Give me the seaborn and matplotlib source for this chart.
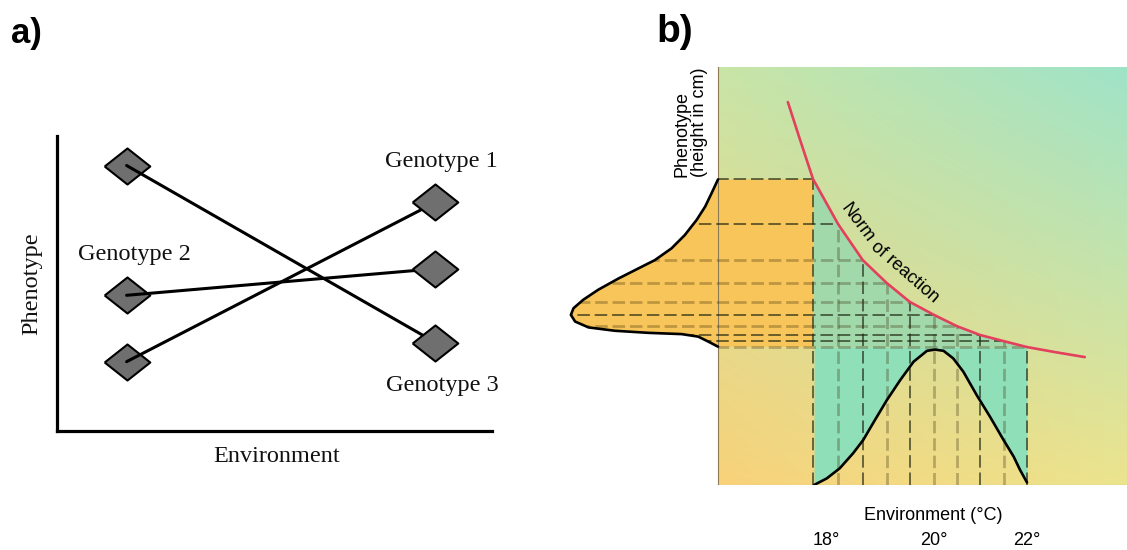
import numpy as np
import pandas as pd
import matplotlib
matplotlib.use("Agg")
import matplotlib.pyplot as plt
from matplotlib.patches import Polygon
import seaborn as sns

# ── Panel a : reaction norms of three genotypes ──────────────────────────
ENV_LEVELS = [1.6, 8.7]
GENOTYPES = ["Genotype 1", "Genotype 2", "Genotype 3"]
PHENO_G1 = [2.35, 7.75]
PHENO_G2 = [4.6, 5.5]
PHENO_G3 = [9.0, 3.0]

# ── Panel b : norm of reaction (height vs temperature) ──────────────────
NORM_TEMP = [17.53, 17.76, 18.00, 18.47, 18.93, 19.38, 19.81, 20.26, 20.69,
             21.12, 21.57, 22.00, 22.52, 23.08]
NORM_HEIGHT = [91.6, 82.5, 73.2, 62.4, 53.8, 48.3, 43.8, 40.7, 38.0,
               35.9, 34.4, 33.0, 31.8, 30.6]

# sampled environments (vertical dashes) and resulting heights (horizontal dashes)
GRID_TEMP = [18.00, 18.47, 18.93, 19.38, 19.81, 20.26, 20.69, 21.12, 21.57, 22.00]
GRID_HEIGHT = [73.2, 62.4, 53.8, 48.3, 43.8, 40.7, 38.0, 35.9, 34.4, 33.0]

# distribution of environments (bottom bell curve)
ENV_DIST_TEMP = [18.02, 18.26, 18.50, 18.75, 18.94, 19.16, 19.38, 19.63, 19.88, 20.13,
                 20.28, 20.44, 20.62, 20.81, 21.06, 21.31, 21.56, 21.75, 21.87, 22.00]
ENV_DIST_DENS = [0.0, 1.6, 4.0, 7.6, 10.8, 15.6, 20.3, 25.1, 29.5, 32.1,
                 32.4, 32.1, 30.3, 27.1, 21.5, 16.3, 10.8, 6.8, 3.6, 0.6]

# distribution of phenotypes (left curve), density measured leftwards from the axis
PHENO_DIST_HEIGHT = [73.1, 69.8, 66.6, 63.4, 59.8, 56.6, 53.8, 51.8, 49.4, 46.7,
                     44.3, 42.3, 40.7, 39.1, 37.7, 36.9, 36.4, 36.1, 35.5, 34.3,
                     33.1]
PHENO_DIST_DENS = [0.0, 0.12, 0.24, 0.40, 0.62, 0.87, 1.18, 1.49, 1.86, 2.24,
                   2.52, 2.70, 2.75, 2.67, 2.42, 1.93, 1.30, 0.68, 0.37, 0.18,
                   0.0]

TICK_TEMPS = [18, 20, 22]
TICK_LABELS = ["18°", "20°", "22°"]

# ── Style ────────────────────────────────────────────────────────────────
W, H = 1127, 550
AXIS_X = 16.224            # left edge of the coloured box (temperature units)
X_MIN, X_MAX = 13.271, 23.869
SERIF = ["Liberation Serif", "DejaVu Serif"]
SANS = ["Liberation Sans", "DejaVu Sans"]

sns.set_style("white")
plt.rcParams["font.family"] = SANS
plt.rcParams["text.color"] = "black"
plt.rcParams["lines.scale_dashes"] = False


def px_box(left, top, right, bottom):
    return [left / W, 1 - bottom / H, (right - left) / W, (bottom - top) / H]


fig = plt.figure(figsize=(W / 100, H / 100), dpi=100)
fig.patch.set_facecolor("white")

# ── Panel a ──────────────────────────────────────────────────────────────
ax_a = fig.add_axes(px_box(57, 136, 492, 431))
df = pd.DataFrame({
    "genotype": np.repeat(GENOTYPES, 2),
    "environment": ENV_LEVELS * 3,
    "phenotype": PHENO_G1 + PHENO_G2 + PHENO_G3,
})
diamond = [(-1, 0), (0, 0.79), (1, 0), (0, -0.79), (-1, 0)]
left_pts = df[df["environment"] == ENV_LEVELS[0]]
right_pts = df[df["environment"] == ENV_LEVELS[1]]

sns.scatterplot(data=left_pts, x="environment", y="phenotype", marker=diamond, s=1080,
                color="#6f6f6f", edgecolor="black", linewidth=1.5, zorder=2, ax=ax_a,
                legend=False)
sns.lineplot(data=df, x="environment", y="phenotype", units="genotype", estimator=None,
             color="black", lw=2.2, zorder=3, ax=ax_a, legend=False)
sns.scatterplot(data=right_pts, x="environment", y="phenotype", marker=diamond, s=1080,
                color="#6f6f6f", edgecolor="black", linewidth=1.5, zorder=4, ax=ax_a,
                legend=False)

ax_a.set_xlim(0, 10)
ax_a.set_ylim(0, 10)
ax_a.set_xticks([])
ax_a.set_yticks([])
ax_a.set_xlabel("")
ax_a.set_ylabel("")
sns.despine(ax=ax_a)
for side in ("left", "bottom"):
    ax_a.spines[side].set_linewidth(2.3)
    ax_a.spines[side].set_color("black")

txt = dict(family=SERIF, fontsize=17.5, color="#111111", ha="center", va="center")
ax_a.text(8.83, 9.15, "Genotype 1", **txt)
ax_a.text(1.79, 5.97, "Genotype 2", **txt)
ax_a.text(8.85, 1.53, "Genotype 3", **txt)
ax_a.text(5.06, -0.85, "Environment", **txt)
ax_a.text(-0.57, 5.0, "Phenotype", rotation=90, **txt)

fig.text(11 / W, 1 - 43 / H, "a)", fontsize=25, fontweight="bold", ha="left", va="baseline")
fig.text(656 / W, 1 - 42 / H, "b)", fontsize=28, fontweight="bold", ha="left", va="baseline")

# ── Panel b ──────────────────────────────────────────────────────────────
ax_b = fig.add_axes(px_box(560, 67, 1127, 485))
ax_b.set_xlim(X_MIN, X_MAX)
ax_b.set_ylim(0, 100)
ax_b.axis("off")

# background gradient (orange bottom-left -> teal top-right)
bl = np.array([248, 210, 122]) / 255
br = np.array([236, 228, 142]) / 255
tl = np.array([201, 229, 167]) / 255
tr = np.array([159, 227, 200]) / 255
gy, gx = np.mgrid[0:1:200j, 0:1:200j]
grad = ((1 - gx) * (1 - gy))[..., None] * bl + (gx * (1 - gy))[..., None] * br \
    + ((1 - gx) * gy)[..., None] * tl + (gx * gy)[..., None] * tr
ax_b.imshow(grad, extent=[AXIS_X, X_MAX, 0, 100], origin="lower", aspect="auto",
            interpolation="bilinear", zorder=0)

pheno_x = [AXIS_X - d for d in PHENO_DIST_DENS]

# orange phenotype region
orange = list(zip(pheno_x, PHENO_DIST_HEIGHT)) + [(GRID_TEMP[0], GRID_HEIGHT[-1]),
                                                   (GRID_TEMP[0], GRID_HEIGHT[0])]
ax_b.add_patch(Polygon(orange, closed=True, facecolor="#f8c55a", edgecolor="none", zorder=1))

# green region under the norm of reaction
ax_b.fill_between(GRID_TEMP, GRID_HEIGHT[-1], GRID_HEIGHT, color="#a2d9ab", lw=0, zorder=1)
# teal band above the environment distribution
ax_b.fill_between(ENV_DIST_TEMP, ENV_DIST_DENS, GRID_HEIGHT[-1], color="#8fdfb8", lw=0, zorder=1)

# thin box edges
ax_b.plot([AXIS_X, AXIS_X], [0, 100], color="#8c7a55", lw=0.8, zorder=2)
ax_b.plot([AXIS_X, X_MAX], [0, 0], color="#b0a080", lw=0.8, zorder=2)

# dashed projection grid
clip_poly = Polygon(list(zip(pheno_x, PHENO_DIST_HEIGHT)) +
                    [(AXIS_X, 20), (X_MAX, 20), (X_MAX, 100), (AXIS_X, 100)],
                    closed=True, transform=ax_b.transData)
dark = dict(color="#1c2410", alpha=0.75, lw=1.2, dashes=(9, 3.5))
light = dict(color="#3a2a08", alpha=0.3, lw=2.0, dashes=(9, 3.5))
h_styles = [dark, dark, light, light, light, dark, light, dark, dark, light]
v_styles = [dark, light, dark, light, dark, light, light, dark, light, dark]
for t, h, hs, vs in zip(GRID_TEMP, GRID_HEIGHT, h_styles, v_styles):
    ln, = ax_b.plot([X_MIN, t], [h, h], zorder=3, **hs)
    ln.set_clip_path(clip_poly)
    ax_b.plot([t, t], [0, h], zorder=3, **vs)

# curves
ax_b.plot(pheno_x, PHENO_DIST_HEIGHT, color="black", lw=1.9, zorder=4,
          solid_capstyle="round", solid_joinstyle="round")
sns.lineplot(x=ENV_DIST_TEMP, y=ENV_DIST_DENS, sort=False, estimator=None,
             color="black", lw=1.9, zorder=4, ax=ax_b, solid_joinstyle="round")
sns.lineplot(x=NORM_TEMP, y=NORM_HEIGHT, sort=False, estimator=None,
             color="#e2405c", lw=1.9, zorder=5, ax=ax_b, solid_joinstyle="round")

# labels
ax_b.text(18.82, 62.8, "Norm", rotation=-53, fontsize=13, ha="center", va="center",
          rotation_mode="anchor", zorder=6)
ax_b.text(19.71, 50.9, "of reaction", rotation=-41, fontsize=13, ha="center", va="center",
          rotation_mode="anchor", zorder=6)
ax_b.text(15.72, 73.7, "Phenotype\n(height in cm)", rotation=90, fontsize=13,
          ha="center", va="bottom", multialignment="left", linespacing=1.05)
ax_b.text(20.24, -7.2, "Environment (°C)", fontsize=13, ha="center", va="center")
for t, lab, ha in zip(TICK_TEMPS, TICK_LABELS, ["left", "left", "center"]):
    ax_b.text(t, -13.2, lab, fontsize=13, ha=ha, va="center")

fig.savefig("out.png", dpi=100, facecolor="white")
